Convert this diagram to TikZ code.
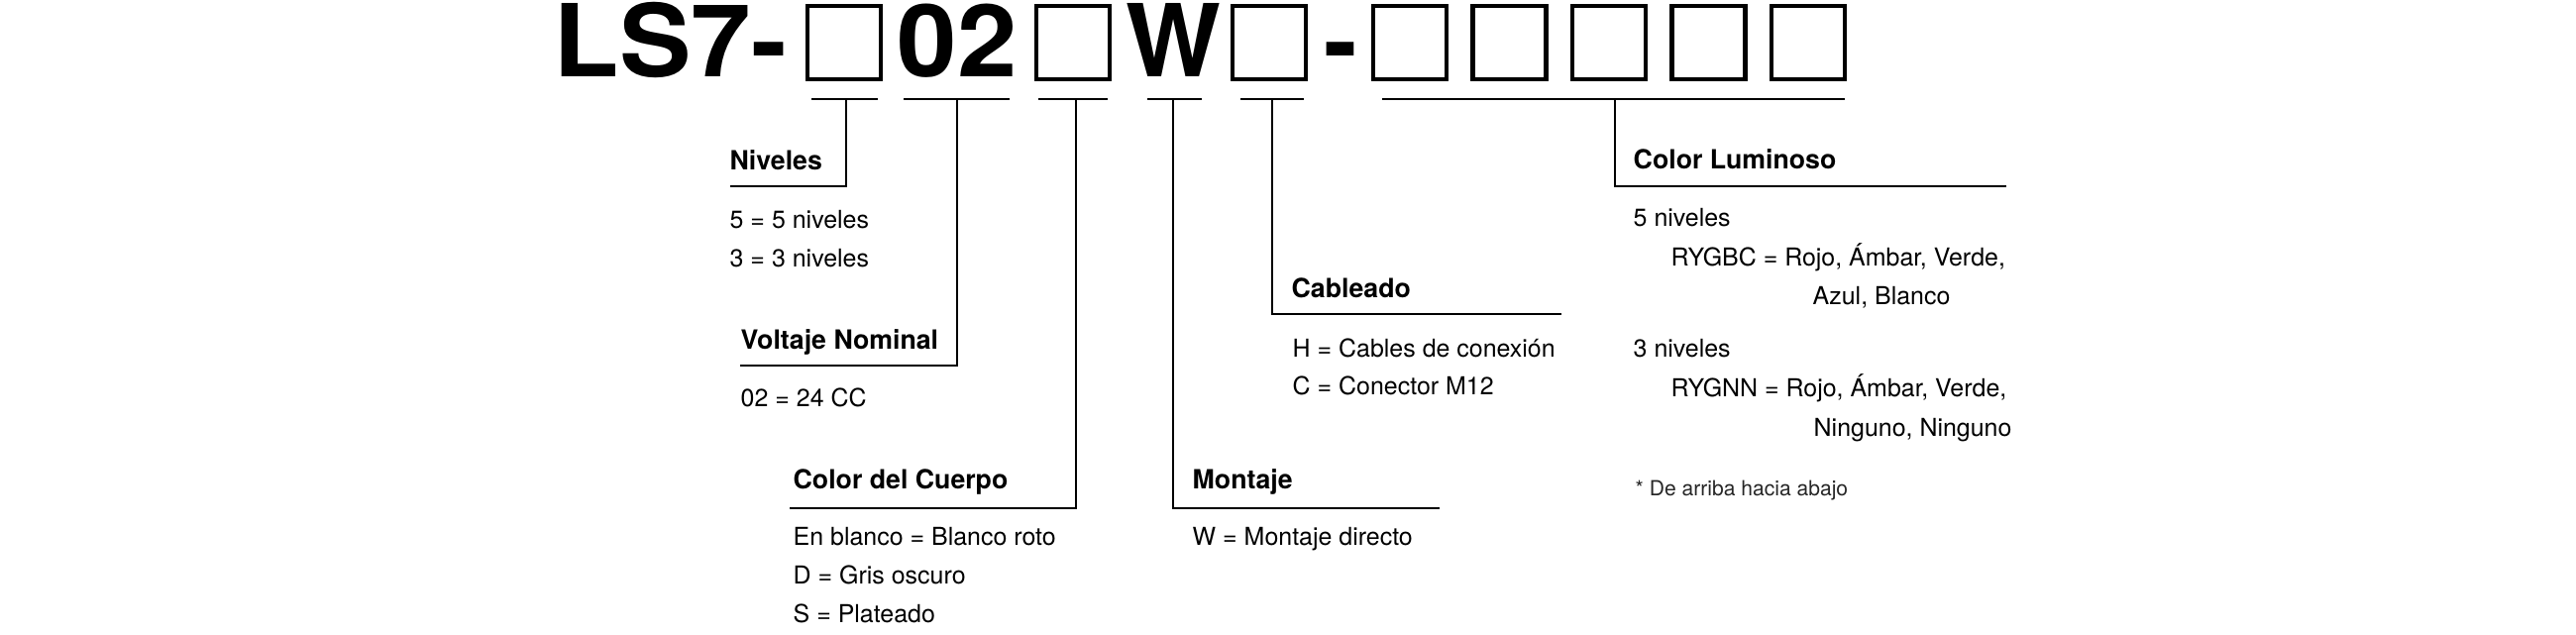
\documentclass[tikz,border=0pt]{standalone}
\usepackage{fontspec}
\setmainfont{TeX Gyre Heros}
\newfontfamily\widecode[FakeStretch=1.07]{TeX Gyre Heros}

\begin{document}
\begin{tikzpicture}[
    code/.style={font=\fontsize{28.9}{30}\selectfont\bfseries, inner sep=0pt, anchor=base},
    widecode/.style={code, font=\widecode\fontsize{28.9}{30}\selectfont\bfseries},
    slot/.style={draw, line width=1.15pt, minimum width=0.74cm, minimum height=0.74cm, inner sep=0pt},
    head/.style={font=\fontsize{7.6}{9}\selectfont\bfseries, inner sep=0pt, anchor=base west},
    opt/.style={font=\fontsize{7.1}{9}\selectfont, inner sep=0pt, anchor=base west},
    note/.style={font=\fontsize{6}{7}\selectfont, inner sep=0pt, anchor=base west, text=black!85},
    lead/.style={line width=0.5pt},
    bar/.style={line width=0.6pt}
]
    \useasboundingbox (0,0) rectangle (26,-6.4);

    \node[widecode, anchor=base east] (ls) at (7.95,-0.77) {LS7-};
    \node[slot] (s1) at (8.52,-0.43) {};
    \node[widecode] (n02) at (9.66,-0.77) {02};
    \node[slot] (s2) at (10.83,-0.43) {};
    \node[code] (w) at (11.84,-0.77) {W};
    \node[slot] (s3) at (12.81,-0.43) {};
    \node[code] (dash) at (13.53,-0.77) {-};
    \foreach \i in {4,...,8}
        \node[slot] (s\i) at ({14.23+(\i-4)*1.005},-0.43) {};

    \coordinate (b1) at (8.54,-1);
    \coordinate (b2) at (9.66,-1);
    \coordinate (b3) at (10.86,-1);
    \coordinate (b4) at (11.84,-1);
    \coordinate (b5) at (12.84,-1);
    \coordinate (b6) at (16.30,-1);
    \coordinate (e1) at (7.37,-1.88);
    \coordinate (e2) at (7.47,-3.69);
    \coordinate (e3) at (7.97,-5.13);
    \coordinate (e4) at (14.53,-5.13);
    \coordinate (e5) at (15.76,-3.17);
    \coordinate (e6) at (20.25,-1.88);

    \draw[bar] ([xshift=-0.35cm]b1) -- ([xshift=0.32cm]b1);
    \draw[bar] ([xshift=-0.54cm]b2) -- ([xshift=0.53cm]b2);
    \draw[bar] ([xshift=-0.38cm]b3) -- ([xshift=0.32cm]b3);
    \draw[bar] ([xshift=-0.26cm]b4) -- ([xshift=0.29cm]b4);
    \draw[bar] ([xshift=-0.32cm]b5) -- ([xshift=0.32cm]b5);
    \draw[bar] ([xshift=-2.35cm]b6) -- ([xshift=2.32cm]b6);

    \draw[lead] (b1) |- (e1);
    \draw[lead] (b2) |- (e2);
    \draw[lead] (b3) |- (e3);
    \draw[lead] (b4) |- (e4);
    \draw[lead] (b5) |- (e5);
    \draw[lead] (b6) |- (e6);

    \node[head] (niv) at (7.36,-1.71) {Niveles};
    \node[opt] (niv5) at (7.36,-2.30) {5 = 5 niveles};
    \node[opt] (niv3) at (7.36,-2.69) {3 = 3 niveles};

    \node[head] (volt) at (7.47,-3.52) {Voltaje Nominal};
    \node[opt] (volt02) at (7.47,-4.10) {02 = 24 CC};

    \node[head] (cuerpo) at (8.00,-4.93) {Color del Cuerpo};
    \node[opt] (cuerpoE) at (8.00,-5.50) {En blanco = Blanco roto};
    \node[opt] (cuerpoD) at (8.00,-5.89) {D = Gris oscuro};
    \node[opt] (cuerpoS) at (8.00,-6.28) {S = Plateado};

    \node[head] (mont) at (12.03,-4.93) {Montaje};
    \node[opt] (montW) at (12.03,-5.50) {W = Montaje directo};

    \node[head] (cab) at (13.03,-3.00) {Cableado};
    \node[opt] (cabH) at (13.04,-3.60) {H = Cables de conexión};
    \node[opt] (cabC) at (13.04,-3.98) {C = Conector M12};

    \node[head] (lum) at (16.48,-1.70) {Color Luminoso};
    \node[opt] (lum5) at (16.48,-2.28) {5 niveles};
    \node[opt] (lum5a) at (16.86,-2.68) {RYGBC = Rojo, Ámbar, Verde,};
    \node[opt] (lum5b) at (18.29,-3.07) {Azul, Blanco};
    \node[opt] (lum3) at (16.48,-3.60) {3 niveles};
    \node[opt] (lum3a) at (16.86,-4.00) {RYGNN = Rojo, Ámbar, Verde,};
    \node[opt] (lum3b) at (18.30,-4.40) {Ninguno, Ninguno};
    \node[note] (nota) at (16.50,-5.00) {* De arriba hacia abajo};
\end{tikzpicture}
\end{document}
